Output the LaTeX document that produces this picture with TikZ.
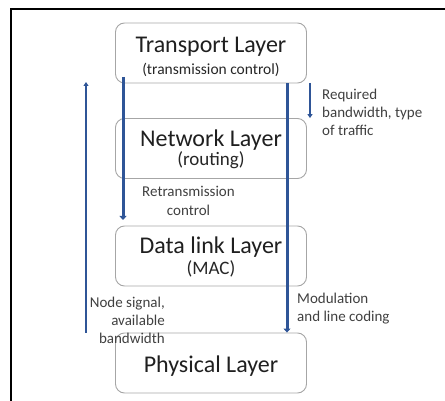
\documentclass[tikz,border=0pt]{standalone}
\usepackage{fontspec}
\setmainfont{Carlito}
\usetikzlibrary{arrows.meta,calc}
\definecolor{arrblue}{HTML}{2F5597}
\definecolor{boxgray}{HTML}{A6A6A6}
\definecolor{labgray}{HTML}{404040}
\begin{document}
\begin{tikzpicture}[x=1pt,y=-1pt,
  layer/.style={draw=boxgray,line width=0.9pt,rounded corners=9pt,minimum width=191pt,minimum height=60pt,inner sep=0pt},
  title/.style={anchor=base,inner sep=0pt,text=black!88,font=\fontsize{24}{28}\selectfont},
  subtitle/.style={anchor=base,inner sep=0pt,text=black!85,font=\fontsize{19}{22}\selectfont},
  bigarr/.style={draw=arrblue,line width=3pt,-{Triangle[length=4pt,width=7pt]}},
  smallarr/.style={draw=arrblue,line width=2pt,-{Triangle[length=4pt,width=5pt]}},
  lab/.style={text=labgray,font=\fontsize{15}{18}\selectfont,inner sep=0pt}]
\useasboundingbox (0,0) rectangle (445,401);
\draw[line width=1.5pt] (11,402) -- (11,9) -- (446,9);
\node[layer] (tl) at (211,53) {};
\node[layer] (nl) at (211,148.5) {};
\node[layer] (dl) at (211,256) {};
\node[layer] (pl) at (211,363) {};
\node[title] (tlt) at (211,53) {Transport Layer};
\node[subtitle,font=\fontsize{15.5}{18}\selectfont] (tls) at (211,75) {(transmission control)};
\node[title] (nlt) at (211,147) {Network Layer};
\node[subtitle] (nls) at (211,166) {(routing)};
\node[title] (dlt) at (211,254) {Data link Layer};
\node[subtitle] (dls) at (211,274) {(MAC)};
\node[title] (plt) at (211,372) {Physical Layer};
\coordinate (la) at (123,77);
\coordinate (lb) at (123,220);
\draw[bigarr] (la) -- (lb);
\draw[bigarr] (tl.south -| 287,0) -- (pl.north -| 287,0);
\coordinate (sa) at (310,83);
\draw[smallarr] (sa) -- (nl.north -| sa);
\coordinate (ua) at (86,82);
\draw[smallarr] (pl.north -| ua) -- (ua);
\node[lab,anchor=base west,align=left] (req) at (322,136) {Required\\bandwidth, type\\of traffic};
\node[lab,anchor=base,align=center] (ret) at (188.5,215) {Retransmission\\control};
\node[lab,anchor=base east,align=right] (nod) at (165,343) {Node signal,\\available\\bandwidth};
\node[lab,anchor=base west,align=left] (mod) at (297,321) {Modulation\\and line coding};
\end{tikzpicture}
\end{document}
